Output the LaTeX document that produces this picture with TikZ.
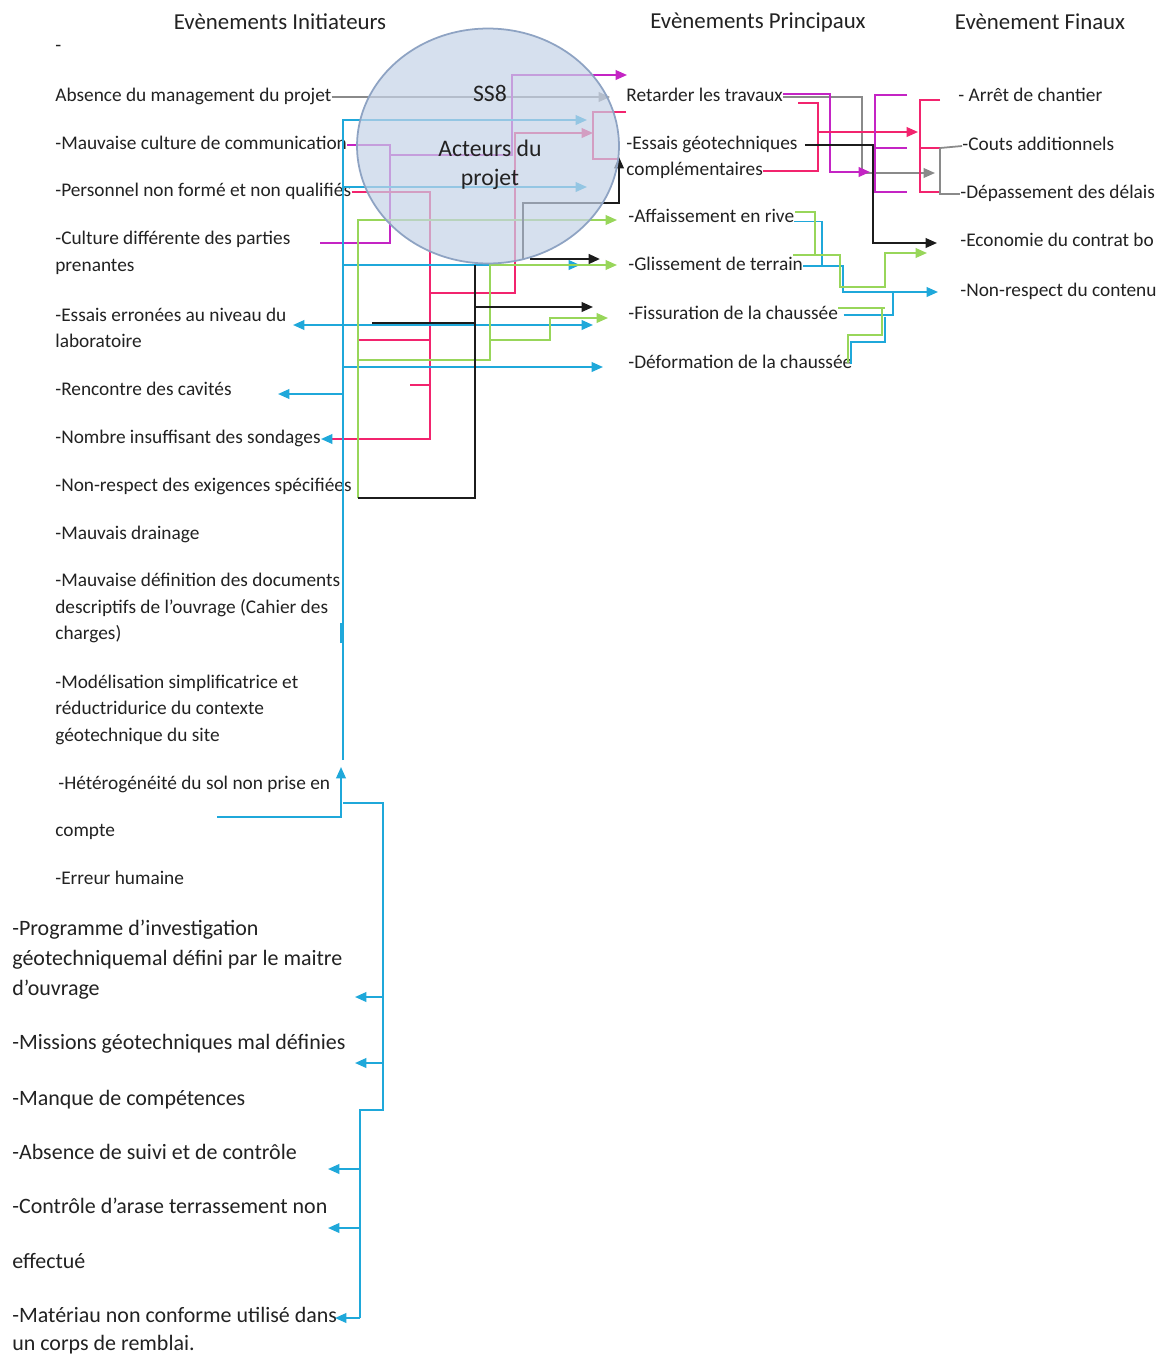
\documentclass[tikz,border=0pt]{standalone}
\usepackage{fontspec}
\setmainfont{Carlito}
\usetikzlibrary{arrows.meta,shapes.geometric}

\definecolor{txtgray}{HTML}{222222}
\definecolor{cyanl}{HTML}{1FA8DA}
\definecolor{pinkl}{HTML}{F2246E}
\definecolor{purpl}{HTML}{C424C4}
\definecolor{greenl}{HTML}{98D65A}
\definecolor{grayl}{HTML}{8A8A8A}
\definecolor{blackl}{HTML}{1C1C1C}
\definecolor{ssfill}{HTML}{C6D3E7}
\definecolor{ssdraw}{HTML}{8EA3C3}

\tikzset{
  lbl/.style={anchor=west, inner sep=0pt, text=txtgray, text height=7pt, text depth=2pt,
    font=\fontsize{11}{13}\selectfont},
  big/.style={lbl, text height=8pt, text depth=2.3pt, font=\fontsize{12.5}{15}\selectfont},
  head/.style={inner sep=0pt, text=txtgray, font=\fontsize{13}{15}\selectfont},
  tip/.style={-{Triangle[length=6.5pt,width=5.5pt]}},
  gl/.style={line width=1pt, grayl},
  pl/.style={line width=1.1pt, purpl},
  pk/.style={line width=1.1pt, pinkl},
  cy/.style={line width=1.1pt, cyanl},
  gr/.style={line width=1pt, greenl},
  bk/.style={line width=1.1pt, blackl},
}

\begin{document}
\begin{tikzpicture}[x=0.02cm,y=-0.02cm]
    \fill[white] (0,0) rectangle (1165,1356);
    \useasboundingbox (0,0) rectangle (1165,1356);

    \node[head] (hinit) at (280,22) {Evènements Initiateurs};
    \node[head] (hprinc) at (758,22) {Evènements Principaux};
    \node[head] (hfin) at (1040,22) {Evènement Finaux};

    % causes
    \node[lbl] (tiret) at (55,47) {-};
    \node[lbl] (absence) at (55,97) {Absence du management du projet};
    \node[lbl] (mauvcult) at (55,145) {-Mauvaise culture de communication};
    \node[lbl] (personnel) at (55,192) {-Personnel non formé et non qualifiés};
    \node[lbl] (culture) at (55,240) {-Culture différente des parties};
    \node[lbl] (culture2) at (55,267) {prenantes};
    \node[lbl] (essais) at (55,317) {-Essais erronées au niveau du};
    \node[lbl] (essais2) at (55,343) {laboratoire};
    \node[lbl] (cavites) at (55,391) {-Rencontre des cavités};
    \node[lbl] (sondages) at (55,439) {-Nombre insuffisant des sondages};
    \node[lbl] (exigences) at (55,487) {-Non-respect des exigences spécifiées};
    \node[lbl] (drainage) at (55,535) {-Mauvais drainage};
    \node[lbl] (docs) at (55,582) {-Mauvaise définition des documents};
    \node[lbl] (docs2) at (55,609) {descriptifs de l’ouvrage (Cahier des};
    \node[lbl] (docs3) at (55,635) {charges)};
    \node[lbl] (modele) at (55,684) {-Modélisation simplificatrice et};
    \node[lbl] (modele2) at (55,710) {réductridurice du contexte};
    \node[lbl] (modele3) at (55,737) {géotechnique du site};
    \node[lbl] (hetero) at (58,785) {-Hétérogénéité du sol non prise en};
    \node[lbl] (hetero2) at (55,832) {compte};
    \node[lbl] (erreur) at (55,880) {-Erreur humaine};

    \node[big] (progr) at (12,930) {-Programme d’investigation};
    \node[big] (progr2) at (12,960) {géotechniquemal défini par le maitre};
    \node[big] (progr3) at (12,990) {d’ouvrage};
    \node[big] (missions) at (12,1044) {-Missions géotechniques mal définies};
    \node[big] (manque) at (12,1100) {-Manque de compétences};
    \node[big] (suivi) at (12,1154) {-Absence de suivi et de contrôle};
    \node[big] (arase) at (12,1208) {-Contrôle d’arase terrassement non};
    \node[big] (arase2) at (12,1263) {effectué};
    \node[big] (materiau) at (12,1317) {-Matériau non conforme utilisé dans};
    \node[big] (materiau2) at (12,1345) {un corps de remblai.};

    % evenements principaux
    \node[lbl] (retarder) at (626,97) {Retarder les travaux};
    \node[lbl] (essgeo) at (626,145) {-Essais géotechniques};
    \node[lbl] (essgeo2) at (626,171) {complémentaires};
    \node[lbl] (affaiss) at (628,218) {-Affaissement en rive};
    \node[lbl] (glisse) at (628,266) {-Glissement de terrain};
    \node[lbl] (fissure) at (628,315) {-Fissuration de la chaussée};
    \node[lbl] (deforme) at (628,364) {-Déformation de la chaussée};

    % evenements finaux
    \node[lbl] (arret) at (958,97) {- Arrêt de chantier};
    \node[lbl] (couts) at (962,146) {-Couts additionnels};
    \node[lbl] (delais) at (960,194) {-Dépassement des délais};
    \node[lbl] (econ) at (960,242) {-Economie du contrat bo};
    \node[lbl] (contenu) at (960,292) {-Non-respect du contenu};

    % liaisons vers les evenements principaux
    \draw[gl,tip] (absence.east) -- (610,97);

    \draw[pl] (mauvcult.east) -| (390,243) -- (320,243);
    \draw[pl,tip] (390,155) -| (512,75) -- (627,75);

    \draw[pk,-{Triangle[length=6.5pt,width=5.5pt,color=cyanl]}] (personnel.east) -| (430,439) -- (sondages.east);
    \draw[pk,tip] (430,293) -| (515,133) -- (593,133);
    \draw[pk] (358,340) -- (430,340);
    \draw[pk] (410,385) -- (430,385);
    \draw[pk] (retarder.west |- 0,112) -| (593,159) -- (619,159);

    \draw[cy,tip] (343,760) |- (587,120);
    \draw[cy,line width=1.6pt] (341,623) -- (341,643);
    \draw[cy,tip] (343,187) -- (587,187);
    \draw[cy,tip] (343,265) -- (580,265);
    \draw[cy,tip] (343,367) -- (603,367);
    \draw[cy,tip] (343,394) -- (278,394);
    \draw[cy,{Triangle[length=6.5pt,width=5.5pt]}-{Triangle[length=6.5pt,width=5.5pt]}] (293,325) -- (593,325);
    \draw[cy,tip] (217,817) -| (341,767);

    \draw[gr,tip] (358,498) |- (617,220);
    \draw[gr,tip] (358,360) -| (490,265) -- (617,265);
    \draw[gr,tip] (490,340) -| (550,318) -- (608,318);

    \draw[bk] (358,498) -| (475,265);
    \draw[bk,line width=1.6pt] (372,323) -- (475,323);
    \draw[bk,tip] (475,307) -- (593,307);
    \draw[bk,tip] (523,259) |- (619,203) -- (619,157);
    \draw[bk,line width=1.4pt,tip] (530,259) -- (600,259);

    \node[ellipse, draw=ssdraw, line width=1pt, fill=ssfill, fill opacity=.7, draw opacity=1,
      minimum width=5.24cm, minimum height=4.7cm] (acteurs) at (488,146) {};
    \node[head, font=\fontsize{13.5}{15}\selectfont] (ss8) at (490,93) {SS8};
    \node[head, font=\fontsize{13.5}{15}\selectfont] (act1) at (490,148) {Acteurs du};
    \node[head, font=\fontsize{13.5}{15}\selectfont] (act2) at (490,179) {projet};

    % bas de la colonne des causes
    \draw[cy] (343,803) -| (383,1110) -| (360,1318);
    \draw[cy,tip] (383,997) -- (355,997);
    \draw[cy,tip] (383,1063) -- (355,1063);
    \draw[cy,tip] (360,1169) -- (328,1169);
    \draw[cy,tip] (360,1228) -- (328,1228);
    \draw[cy,tip] (360,1318) -- (335,1318);

    % liaisons vers les evenements finaux
    \draw[gl,tip] (retarder.east) -| (862,173) -- (935,173);
    \draw[pl,tip] ([yshift=1.5pt]retarder.east) -| (830,172) -- (870,172);
    \draw[pk] (essgeo2.east) -| (818,103) -- (798,103);
    \draw[pk,tip] (818,132) -- (918,132);
    \draw[bk,tip] ([xshift=4pt]essgeo.east) -| (873,243) -- (937,243);

    \draw[pl] (907,95) -- (875,95) -- (875,192) -- (907,192);
    \draw[pl] (875,148) -- (907,148);
    \draw[pk] (940,100) -- (920,100) -- (920,192) -- (940,192);
    \draw[pk] (920,148) -- (940,148);
    \draw[gl] (940,148) -- (couts.west);
    \draw[gl] (940,148) |- (delais.west);

    \draw[cy] ([yshift=-2pt]affaiss.east) -| (822,266);
    \draw[cy,tip] (glisse.east) -| (843,292) -- (938,292);
    \draw[cy] ([xshift=3pt]fissure.east) -| (893,292);
    \draw[cy] ([xshift=-1pt]deforme.east) |- (885,342) -- (885,317);

    \draw[gr] (795,212) -| (815,255);
    \draw[gr,tip] (793,255) -| (840,287) -| (885,253) -- (927,253);
    \draw[gr] (fissure.east |- 0,308) -- (885,308);
    \draw[gr] (848,363) |- (882,335) -- (882,308);
\end{tikzpicture}
\end{document}
